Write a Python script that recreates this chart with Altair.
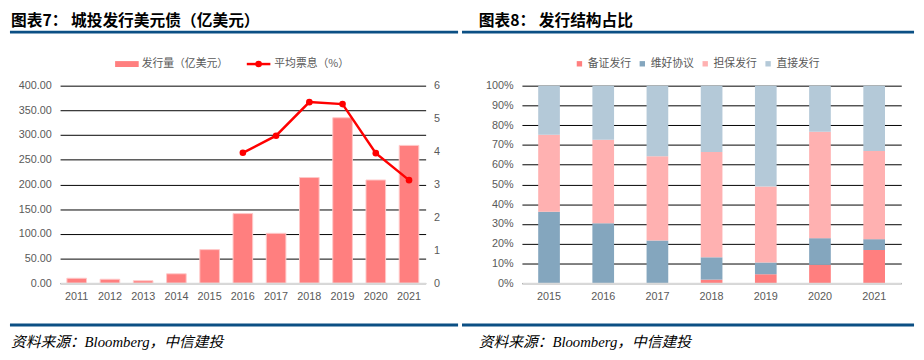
import altair as alt
import pandas as pd

# ---------------- data ----------------
years_l = ["2011", "2012", "2013", "2014", "2015", "2016", "2017", "2018", "2019", "2020", "2021"]
issuance = [10, 8, 5, 19, 68, 141, 101, 214, 335, 209, 279]          # 发行量（亿美元）
coupon_years = ["2016", "2017", "2018", "2019", "2020", "2021"]
coupon = [3.96, 4.48, 5.50, 5.44, 3.95, 3.13]                        # 平均票息（%）

years_r = ["2015", "2016", "2017", "2018", "2019", "2020", "2021"]
types = ["备证发行", "维好协议", "担保发行", "直接发行"]
beizheng = [0.0, 0.0, 0.0, 1.8, 4.5, 9.3, 16.8]
weihao = [36.2, 30.4, 21.6, 11.3, 6.0, 13.5, 5.5]
danbao = [38.9, 42.2, 42.7, 53.3, 38.5, 53.9, 44.6]
zhijie = [24.9, 27.4, 35.7, 33.6, 51.0, 23.3, 33.1]
type_colors = ["#FF7F7F", "#84A6BE", "#FFB1B1", "#B4C9D8"]

title_l = "图表7：  城投发行美元债（亿美元）"
title_r = "图表8：  发行结构占比"
source = "资料来源：Bloomberg，中信建投"

CJK = "Noto Sans CJK SC"
LAT = "Liberation Sans"
BLUE = "#0B4F84"
GRAY = "#595959"

one = pd.DataFrame({"k": [0]})


def txt(s, x, y, size=11, color=GRAY, font=CJK, **kw):
    return alt.Chart(one).mark_text(text=s, align="left", baseline="middle", fontSize=size,
                                    color=color, font=font, **kw).encode(x=alt.value(x), y=alt.value(y))


def hrule(x1, x2, y, color=BLUE, w=3):
    return alt.Chart(one).mark_rule(color=color, strokeWidth=w).encode(
        x=alt.value(x1), x2=alt.value(x2), y=alt.value(y))


# ---------------- left panel ----------------
WL, H = 372, 201
df_bar = pd.DataFrame({"year": years_l, "amount": issuance})
df_line = pd.DataFrame({"year": coupon_years, "coupon": coupon})

xl = alt.X("year:N", sort=years_l,
           scale=alt.Scale(domain=years_l, paddingInner=0.41, paddingOuter=0.205),
           axis=alt.Axis(title=None, labelAngle=0, ticks=False, domainColor="#D9D9D9",
                         domainWidth=2, labelPadding=8, zindex=1))

bars = alt.Chart(df_bar).mark_bar(color="#FF7F7F", stroke="#FFC8C8", strokeWidth=1).encode(
    x=xl,
    y=alt.Y("amount:Q", scale=alt.Scale(domain=[0, 400], nice=False),
            axis=alt.Axis(values=list(range(0, 401, 50)), format=".2f", title=None, grid=True,
                          gridColor="black", gridWidth=1, ticks=False, domain=False, labelPadding=9)),
)

line = alt.Chart(df_line).mark_line(
    color="#FF0000", strokeWidth=2.5,
    point=alt.OverlayMarkDef(color="#FF0000", size=45, filled=True, opacity=1)).encode(
    x=alt.X("year:N", sort=years_l),
    y=alt.Y("coupon:Q", scale=alt.Scale(domain=[0, 6], nice=False),
            axis=alt.Axis(orient="right", values=list(range(0, 7)), title=None, grid=False,
                          ticks=False, domain=False, labelPadding=8)),
)

leg_rect = alt.Chart(one).mark_rect(color="#FF7F7F").encode(
    x=alt.value(56), x2=alt.value(80), y=alt.value(-25), y2=alt.value(-19))
leg_line = hrule(190, 214, -22, color="#FF0000", w=2.5)
leg_pt = alt.Chart(one).mark_circle(color="#FF0000", size=45, opacity=1).encode(
    x=alt.value(202), y=alt.value(-22))

TY = -66
left = alt.layer(
    bars, line,
    txt(title_l, -50, TY, size=16, color="black", fontWeight="bold"),
    hrule(-51, 405, -54.5),
    leg_rect, leg_line, leg_pt,
    txt("发行量（亿美元）", 83, -22),
    txt("平均票息（%）", 218, -22),
    hrule(-51, 405, 243.5),
    txt(source, -50, 261, size=15, color="black", font="Liberation Serif, " + CJK, fontStyle="italic"),
).resolve_scale(y="independent").properties(width=WL, height=H)

# ---------------- right panel ----------------
WR = 386
rows = []
for i, yr in enumerate(years_r):
    for j, (t, arr) in enumerate(zip(types, [beizheng, weihao, danbao, zhijie])):
        rows.append({"year": yr, "type": t, "pct": arr[i], "ord": j})
df_r = pd.DataFrame(rows)

stack = alt.Chart(df_r).mark_bar().encode(
    x=alt.X("year:N", sort=years_r,
            scale=alt.Scale(domain=years_r, paddingInner=0.6, paddingOuter=0.3),
            axis=alt.Axis(title=None, labelAngle=0, ticks=False, domainColor="#D9D9D9",
                          domainWidth=2, labelPadding=8, zindex=1)),
    y=alt.Y("pct:Q", stack="normalize", scale=alt.Scale(domain=[0, 1], nice=False),
            axis=alt.Axis(values=[i / 10 for i in range(11)], format=".0%", title=None, grid=True,
                          gridColor="black", gridWidth=1, ticks=False, domain=False, labelPadding=9)),
    color=alt.Color("type:N", scale=alt.Scale(domain=types, range=type_colors),
                    legend=alt.Legend(orient="none", legendX=53, legendY=-28, direction="horizontal",
                                      title=None, symbolType="square", symbolSize=30,
                                      symbolStrokeWidth=0, labelFontSize=11, labelColor=GRAY,
                                      labelFont=CJK, columnPadding=6, labelOffset=3)),
    order=alt.Order("ord:Q", sort="ascending"),
)

right = alt.layer(
    stack,
    txt(title_r, -44, TY, size=16, color="black", fontWeight="bold"),
    hrule(-61, 399, -54.5),
    hrule(-61, 399, 243.5),
    txt(source, -44, 261, size=15, color="black", font="Liberation Serif, " + CJK, fontStyle="italic"),
).properties(width=WR, height=H)

chart = alt.hconcat(left, right, spacing=0).resolve_legend(color="independent").properties(
    padding={"top": 2, "left": 0, "right": 0, "bottom": 0}
).configure_view(stroke=None).configure_axis(labelFont=LAT, labelFontSize=11, labelColor=GRAY)

chart.save("out.html", embed_options={"renderer": "svg", "actions": False})
